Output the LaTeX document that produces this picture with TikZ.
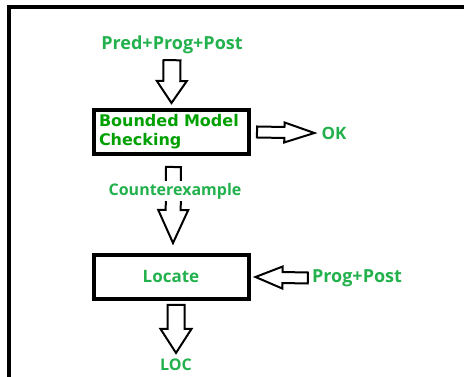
\documentclass[tikz,border=0pt]{standalone}
\usepackage{fontspec}
\setmainfont{Open Sans}
\newfontfamily\verdanafont{DejaVu Sans}
\usetikzlibrary{calc, positioning}

\definecolor{lblgreen}{HTML}{22B14C}
\definecolor{boxgreen}{HTML}{00A000}

% hollow block arrow: tail, tip, shaft half width, head half width, head length
\newcommand{\blockarrow}[5]{%
  \path (#1) coordinate (ba-tail) (#2) coordinate (ba-tip);
  \path ($(ba-tip)!#5!(ba-tail)$) coordinate (ba-neck);
  \draw[blockline] ($(ba-tail)!#3!90:(ba-tip)$) -- ($(ba-neck)!#3!-90:(ba-tail)$)
    -- ($(ba-neck)!#4!-90:(ba-tail)$) -- (ba-tip)
    -- ($(ba-neck)!#4!90:(ba-tail)$) -- ($(ba-neck)!#3!90:(ba-tail)$)
    -- ($(ba-tail)!#3!-90:(ba-tip)$) -- cycle;
}

\begin{document}
\begin{tikzpicture}[
    x=1pt, y=-1pt,
    stage/.style={draw, line width=4pt, minimum width=155pt, minimum height=44pt},
    lbl/.style={text=lblgreen, font=\bfseries\fontsize{18}{20}\selectfont, inner sep=1pt},
    blockline/.style={draw=black, fill=white, line width=2pt, line join=miter}
]
    \useasboundingbox (0,0) rectangle (464,377);
    % outer frame, only top and left edges fall inside the page
    \draw[line width=4pt] (9,390) -- (9,7.5) -- (480,7.5);

    \node[lbl] (pred) at (172,45) {Pred+Prog+Post};
    \node[stage, inner xsep=5pt, text width=145pt, align=left, text=boxgreen,
          font=\verdanafont\bfseries\fontsize{16}{19}\selectfont] (bmc) at (171.5,132)
          {Bounded Model\\Checking};
    \node[lbl, font=\bfseries\fontsize{17}{20}\selectfont] (ok) at (334,133) {OK};
    \node[stage, text=lblgreen, font=\bfseries\fontsize{17}{20}\selectfont] (loc) at (171,277)
          {Locate\hspace{14pt}};
    \node[lbl] (pp) at (357,278) {Prog+Post};
    \node[lbl, font=\bfseries\fontsize{16}{18}\selectfont] (out) at (176,365) {LOC};

    \blockarrow{[yshift=-5pt]pred.south}{[yshift=5pt]bmc.north}{8.5pt}{15pt}{22pt}
    \blockarrow{[xshift=6pt]bmc.east}{[xshift=-6pt]ok.west}{5.5pt}{10pt}{30pt}
    \blockarrow{$(bmc.south)+(2,11)$}{$(loc.north)+(2,-10)$}{7.5pt}{15pt}{33pt}
    \blockarrow{[xshift=-3pt]pp.west}{[xshift=5pt]loc.east}{5.5pt}{11pt}{27pt}
    \blockarrow{$(loc.south -| out)+(0,4)$}{[yshift=5pt]out.north}{8.5pt}{15.5pt}{24pt}

    % label sits on top of the shaft
    \node[lbl, fill=white, inner sep=2pt, font=\fontsize{16}{18}\selectfont\bfseries] (cex) at (175,191) {Counterexample};
\end{tikzpicture}
\end{document}
